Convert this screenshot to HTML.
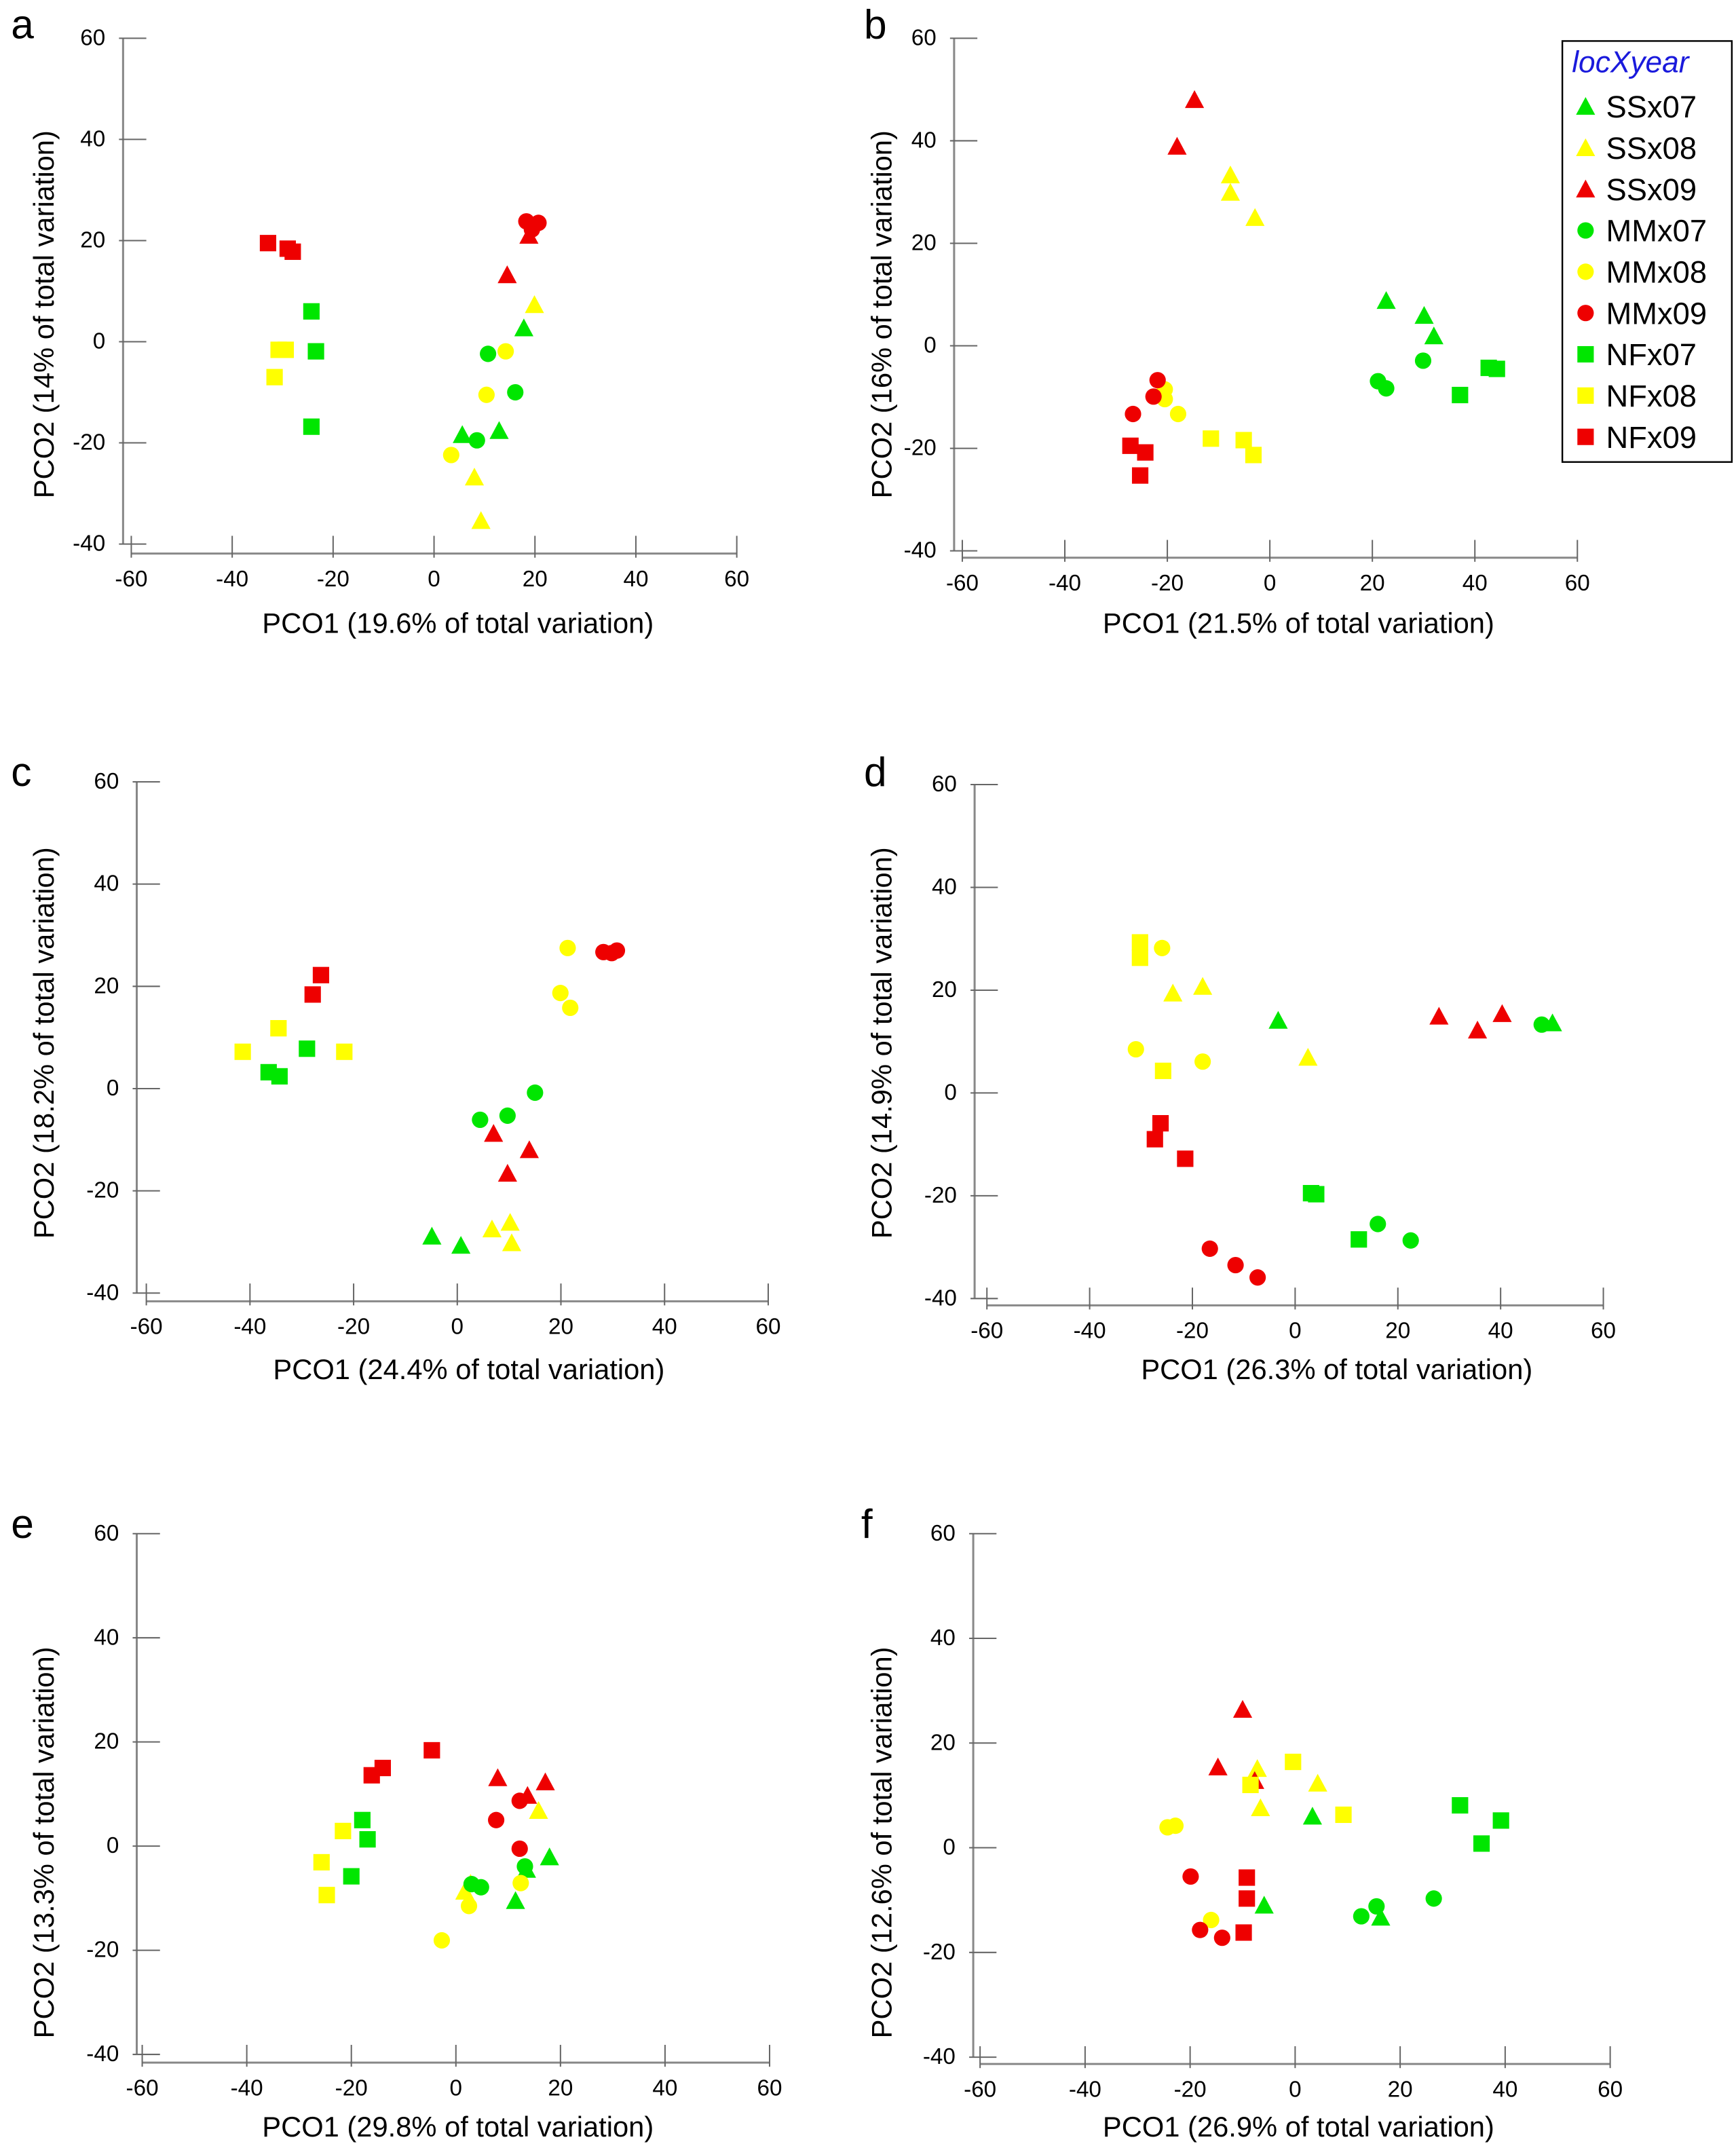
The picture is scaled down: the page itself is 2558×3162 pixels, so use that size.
<!DOCTYPE html>
<html><head><meta charset="utf-8"><style>
html,body{margin:0;padding:0;background:#fff}
svg{display:block;font-family:"Liberation Sans",Arial,sans-serif}
</style></head><body>
<svg id="fig" width="2558" height="3162" viewBox="0 0 1270 1570" xmlns="http://www.w3.org/2000/svg"></svg>
<script>
// ---- data (PCO1, PCO2) per group per panel ----
const groups = ["SSx07","SSx08","SSx09","MMx07","MMx08","MMx09","NFx07","NFx08","NFx09"];
const groupShapes = ["tri","tri","tri","circ","circ","circ","sq","sq","sq"];
const groupColors = ["#00e600","#ffff00","#ee0000","#00e600","#ffff00","#ee0000","#00e600","#ffff00","#ee0000"];
const xTicks = [-60,-40,-20,0,20,40,60];
const yTicks = [-40,-20,0,20,40,60];
const panelLetters = ["a","b","c","d","e","f"];
const xTitles = ["PCO1 (19.6% of total variation)","PCO1 (21.5% of total variation)","PCO1 (24.4% of total variation)","PCO1 (26.3% of total variation)","PCO1 (29.8% of total variation)","PCO1 (26.9% of total variation)"];
const yTitles = ["PCO2 (14% of total variation)","PCO2 (16% of total variation)","PCO2 (18.2% of total variation)","PCO2 (14.9% of total variation)","PCO2 (13.3% of total variation)","PCO2 (12.6% of total variation)"];

const dataA = {
 SSx07:[[17.8,2.7],[5.6,-18.4],[12.9,-17.6]], SSx08:[[19.9,7.3],[8,-26.8],[9.3,-35.4]], SSx09:[[18.8,21],[14.5,13.2]],
 MMx07:[[10.7,-2.4],[8.5,-19.5],[16.1,-10]], MMx08:[[14.2,-1.9],[10.4,-10.5],[3.4,-22.4]], MMx09:[[18.3,23.8],[20.7,23.5],[19.4,22.2]],
 NFx07:[[-24.3,6],[-23.4,-1.9],[-24.3,-16.8]], NFx08:[[-30.8,-1.6],[-29.4,-1.6],[-31.6,-7]], NFx09:[[-32.9,19.5],[-29,18.4],[-28,17.8]]};
const dataB = {
 SSx07:[[22.7,8.8],[30.1,5.9],[32,1.9]], SSx08:[[-7.7,33.3],[-7.7,29.9],[-2.9,25]], SSx09:[[-14.7,48],[-18.1,38.9]],
 MMx07:[[21.1,-6.9],[22.7,-8.3],[29.9,-2.9]], MMx08:[[-20.5,-8.5],[-20.5,-10.4],[-17.9,-13.3]], MMx09:[[-21.9,-6.7],[-22.7,-9.9],[-26.7,-13.3]],
 NFx07:[[42.7,-4.3],[44.3,-4.5],[37.1,-9.6]], NFx08:[[-11.5,-18.1],[-5.1,-18.4],[-3.2,-21.3]], NFx09:[[-27.2,-19.5],[-24.3,-20.8],[-25.3,-25.3]]};
const dataC = {
 SSx07:[[-4.9,-28.9],[0.7,-30.7]], SSx08:[[6.7,-27.5],[10.2,-26.2],[10.5,-30.2]], SSx09:[[7,-8.8],[13.9,-12],[9.7,-16.6]],
 MMx07:[[4.4,-6.1],[9.7,-5.3],[15,-0.8]], MMx08:[[21.3,27.5],[19.9,18.7],[21.8,15.8]], MMx09:[[28.2,26.7],[30.8,27],[29.8,26.5]],
 NFx07:[[-36.4,3.2],[-34.3,2.4],[-29,7.8]], NFx08:[[-41.4,7.2],[-34.5,11.8],[-21.8,7.2]], NFx09:[[-26.3,22.2],[-27.9,18.4]]};
const dataD = {
 SSx07:[[-3.3,14.1],[50.1,13.6]], SSx08:[[-23.8,19.4],[-18,20.7],[2.5,6.9]], SSx09:[[28,14.9],[35.5,12.2],[40.3,15.4]],
 MMx07:[[16.1,-25.5],[22.5,-28.7],[48,13.3]], MMx08:[[-25.9,28.2],[-31,8.5],[-18,6.1]], MMx09:[[-16.6,-30.3],[-11.6,-33.5],[-7.3,-35.9]],
 NFx07:[[3.1,-19.5],[4.1,-19.7],[12.4,-28.5]], NFx08:[[-30.2,29.3],[-30.2,26.3],[-25.7,4.3]], NFx09:[[-26.2,-5.9],[-27.3,-9],[-21.4,-12.8]]};
const dataE = {
 SSx07:[[17.9,-2.1],[11.4,-10.5],[13.5,-4.5]], SSx08:[[15.8,6.8],[1.7,-8.7],[2.8,-7.2]], SSx09:[[8,13.1],[13.7,9.7],[17.1,12.3]],
 MMx07:[[3,-7.3],[4.8,-7.9],[13.2,-3.9]], MMx08:[[12.4,-7.1],[2.5,-11.5],[-2.7,-18.1]], MMx09:[[7.7,5],[12.2,8.7],[12.2,-0.5]],
 NFx07:[[-17.9,5],[-16.9,1.3],[-20,-5.8]], NFx08:[[-25.7,-3.1],[-24.7,-9.4],[-21.6,2.9]], NFx09:[[-4.6,18.4],[-16.1,13.6],[-14,15]]};
const dataF = {
 SSx07:[[3.3,6],[-5.9,-11],[16.3,-13.3]], SSx08:[[-7.2,15.1],[4.3,12.3],[-6.6,7.6]], SSx09:[[-10,26.4],[-14.7,15.4],[-7.7,12.8]],
 MMx07:[[12.6,-13.1],[15.5,-11.2],[26.4,-9.7]], MMx08:[[-24.3,3.9],[-22.8,4.2],[-16,-13.8]], MMx09:[[-19.9,-5.5],[-18.1,-15.7],[-13.9,-17.2]],
 NFx07:[[31.4,8.1],[39.2,5.2],[35.5,0.8]], NFx08:[[-0.4,16.4],[-8.5,12],[9.2,6.3]], NFx09:[[-9.2,-5.7],[-9.2,-9.7],[-9.8,-16.2]]};
const panelData = [dataA,dataB,dataC,dataD,dataE,dataF];

const layouts = [
 {ax:90, x0:96, x1:539, axY:405, yT:28, yB:398, lx:8, ly:28, ytx:32, yty:230, xtx:335, xty:463},
 {ax:698, x0:704, x1:1154, axY:408, yT:28, yB:403, lx:632, ly:28, ytx:645, yty:230, xtx:950, xty:463},
 {ax:100, x0:107, x1:562, axY:952, yT:572, yB:946, lx:8, ly:575, ytx:32, yty:763, xtx:343, xty:1009},
 {ax:713, x0:722, x1:1173, axY:955, yT:574, yB:950, lx:632, ly:575, ytx:645, yty:763, xtx:978, xty:1009},
 {ax:100, x0:104, x1:563, axY:1509, yT:1122, yB:1503, lx:8, ly:1125, ytx:32, yty:1348, xtx:335, xty:1563},
 {ax:712, x0:717, x1:1178, axY:1510, yT:1122, yB:1505, lx:630, ly:1125, ytx:645, yty:1348, xtx:950, xty:1563}];

const svg = document.getElementById('fig');
const NS = 'http://www.w3.org/2000/svg';
function mk(tag, attrs, parent){const e=document.createElementNS(NS,tag);for(const k in attrs)e.setAttribute(k,attrs[k]);(parent||svg).appendChild(e);return e;}

function drawMarker(g, shape, color, cx, cy){
  let m;
  if(shape==='tri') m=mk('polygon',{points:`${cx},${cy-7} ${cx-7},${cy+6} ${cx+7},${cy+6}`,fill:color},g);
  else if(shape==='circ') m=mk('circle',{cx:cx,cy:cy,r:6,fill:color},g);
  else m=mk('rect',{x:cx-6,y:cy-6,width:12,height:12,fill:color},g);
  return m;
}

layouts.forEach((L,pi)=>{
  const g = mk('g',{});
  
  
  const xS = v => L.x0 + (v+60)/120*(L.x1-L.x0);
  const yS = v => L.yB - (v+40)/100*(L.yB-L.yT);
  const lt = mk('text',{x:L.lx,y:L.ly,'font-size':30,fill:'#000'},g); lt.textContent=panelLetters[pi];
   
  const ya = mk('line',{x1:L.ax,y1:yS(60),x2:L.ax,y2:yS(-40),stroke:'#888','stroke-width':1.5},g);
   
  yTicks.forEach(t=>{
    mk('line',{x1:L.ax-3,x2:L.ax+17,y1:yS(t),y2:yS(t),stroke:'#666','stroke-width':1},g);
    const tx=mk('text',{x:L.ax-13,y:yS(t)+5,'font-size':16.5,'text-anchor':'end',fill:'#000'},g);
    tx.textContent=t;
     
  });
  const xa = mk('line',{x1:xS(-60),y1:L.axY,x2:xS(60),y2:L.axY,stroke:'#888','stroke-width':1.5},g);
   
  xTicks.forEach(t=>{
    mk('line',{x1:xS(t),x2:xS(t),y1:L.axY-13,y2:L.axY+3,stroke:'#666','stroke-width':1},g);
    const tx=mk('text',{x:xS(t),y:L.axY+24,'font-size':16.5,'text-anchor':'middle',fill:'#000'},g);
    tx.textContent=t;
     
  });
  const xt=mk('text',{x:L.xtx,y:L.xty,'font-size':20.7,'text-anchor':'middle',fill:'#000'},g);
  xt.textContent=xTitles[pi];
   
  const yt=mk('text',{x:L.ytx,y:L.yty,'font-size':20.7,'text-anchor':'middle',fill:'#000',transform:`rotate(-90 ${L.ytx} ${L.yty})`,'dominant-baseline':'central'},g);
  yt.textContent=yTitles[pi];
   
  const D = panelData[pi];
  groups.forEach((gn,gi)=>{
    (D[gn]||[]).forEach(p=>{
      const m=drawMarker(g, groupShapes[gi], groupColors[gi], xS(p[0]), yS(p[1]));
      
      
    });
  });
});

const lg = mk('g',{});


mk('rect',{x:1143,y:30,width:124,height:308,fill:'#fff',stroke:'#000','stroke-width':1.2},lg);
const lt = mk('text',{x:1150,y:53,'font-size':22,'font-style':'italic',fill:'#1a1adc'},lg);
lt.textContent='locXyear';
 
groups.forEach((gn,i)=>{
  const cy = 78 + i*30.2;
  const m = drawMarker(lg, groupShapes[i], groupColors[i], 1160, cy);
  
  
  const t = mk('text',{x:1175,y:cy+8,'font-size':22.5,fill:'#000'},lg);
  t.textContent=gn;
   
});
</script>
</body></html>
